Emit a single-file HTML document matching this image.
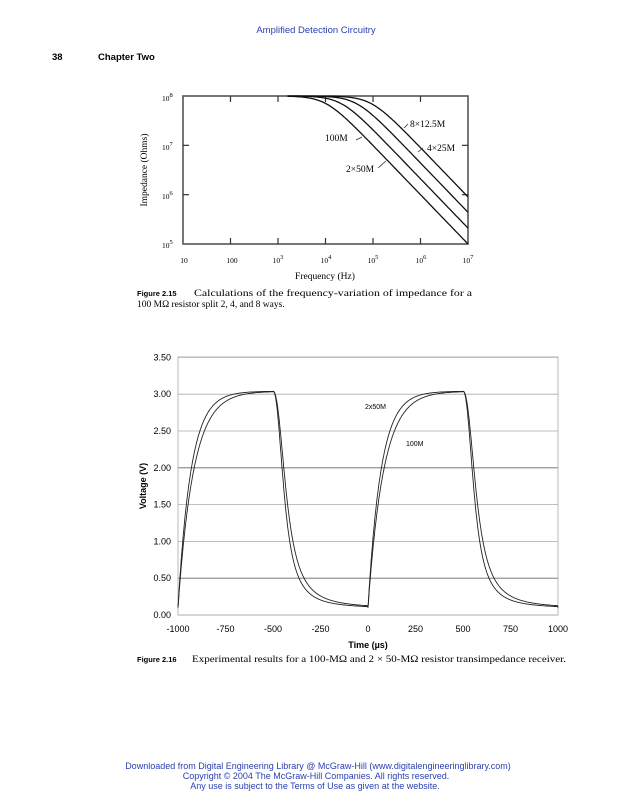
<!DOCTYPE html>
<html><head><meta charset="utf-8"><style>
html,body{margin:0;padding:0;background:#fff;}
svg{display:block;}
</style></head><body>
<svg id="s" width="629" height="800" xmlns="http://www.w3.org/2000/svg" font-family="Liberation Sans, sans-serif">
<text x="316" y="33" text-anchor="middle" font-size="9.5" fill="#2a3fb0">Amplified Detection Circuitry</text>
<text x="52" y="60" font-size="9.5" font-weight="bold">38</text>
<text x="98" y="60" font-size="9.5" font-weight="bold">Chapter Two</text>

<!-- Figure 2.15 -->
<g font-family="Liberation Serif, serif" font-size="9">
<rect x="183" y="96" width="285" height="148" fill="none" stroke="#555" stroke-width="1.6"/>
<g id="ticks1" stroke="#333" stroke-width="1.2"></g>
<g id="curves1" fill="none" stroke="#111" stroke-width="1.3"></g>
<text x="162" y="101" font-size="7.5">10<tspan dy="-4" font-size="6.5">8</tspan></text>
<text x="162" y="150" font-size="7.5">10<tspan dy="-4" font-size="6.5">7</tspan></text>
<text x="162" y="199" font-size="7.5">10<tspan dy="-4" font-size="6.5">6</tspan></text>
<text x="162" y="248" font-size="7.5">10<tspan dy="-4" font-size="6.5">5</tspan></text>
<g font-size="7.5" text-anchor="middle">
<text x="184" y="263">10</text>
<text x="232" y="263">100</text>
<text x="278" y="263">10<tspan dy="-4" font-size="6.5">3</tspan></text>
<text x="326" y="263">10<tspan dy="-4" font-size="6.5">4</tspan></text>
<text x="373" y="263">10<tspan dy="-4" font-size="6.5">5</tspan></text>
<text x="421" y="263">10<tspan dy="-4" font-size="6.5">6</tspan></text>
<text x="468" y="263">10<tspan dy="-4" font-size="6.5">7</tspan></text>
</g>
<text x="325" y="279" text-anchor="middle" font-size="9.5">Frequency (Hz)</text>
<text transform="translate(147,170) rotate(-90)" text-anchor="middle" font-size="9.5">Impedance (Ohms)</text>
<text x="325" y="141" font-size="9.5">100M</text>
<text x="410" y="127" font-size="9.5">8×12.5M</text>
<text x="427" y="151" font-size="9.5">4×25M</text>
<text x="346" y="172" font-size="9.5">2×50M</text>
<g stroke="#333" stroke-width="0.8">
<line x1="356" y1="140" x2="362" y2="137"/>
<line x1="408" y1="124" x2="404" y2="128"/>
<line x1="423" y1="148" x2="418" y2="152"/>
<line x1="378" y1="168" x2="386" y2="161"/>
</g>
</g>
<text x="137" y="296" font-size="7.5" font-weight="bold">Figure 2.15</text>
<text x="194" y="296" font-size="9.5" font-family="Liberation Serif, serif" textLength="278" lengthAdjust="spacingAndGlyphs">Calculations of the frequency-variation of impedance for a</text>
<text x="137" y="307" font-size="9.5" font-family="Liberation Serif, serif">100 MΩ resistor split 2, 4, and 8 ways.</text>

<!-- Figure 2.16 -->
<g id="grid2" stroke="#999" stroke-width="0.8"></g>
<rect x="178" y="357" width="380" height="258" fill="none" stroke="#aaa" stroke-width="0.8"/>
<g id="labels2" font-size="9" text-anchor="end"></g>
<g id="curves2" fill="none" stroke="#222" stroke-width="0.9"></g>
<text x="365" y="409" font-size="7">2x50M</text>
<text x="406" y="446" font-size="7">100M</text>
<text x="368" y="648" text-anchor="middle" font-size="9" font-weight="bold">Time (µs)</text>
<text transform="translate(146,486) rotate(-90)" text-anchor="middle" font-size="9" font-weight="bold">Voltage (V)</text>
<text x="137" y="662" font-size="7.5" font-weight="bold">Figure 2.16</text>
<text x="192" y="662" font-size="9.5" font-family="Liberation Serif, serif" textLength="374" lengthAdjust="spacingAndGlyphs">Experimental results for a 100-MΩ and 2 × 50-MΩ resistor transimpedance receiver.</text>

<g font-size="9" fill="#2a3fb0" text-anchor="middle">
<text x="318" y="769">Downloaded from Digital Engineering Library @ McGraw-Hill (www.digitalengineeringlibrary.com)</text>
<text x="316" y="779">Copyright © 2004 The McGraw-Hill Companies. All rights reserved.</text>
<text x="315" y="789">Any use is subject to the Terms of Use as given at the website.</text>
</g>
</svg>
<script>
var NS="http://www.w3.org/2000/svg";
function el(p,t,a){var e=document.createElementNS(NS,t);for(var k in a)e.setAttribute(k,a[k]);p.appendChild(e);return e;}
var x0=183,dx=47.5,y0=96,dy=49.33;
var tk=document.getElementById('ticks1');
for(var i=1;i<6;i++){var x=x0+i*dx;el(tk,'line',{x1:x,y1:96,x2:x,y2:102});el(tk,'line',{x1:x,y1:244,x2:x,y2:238});}
for(var j=1;j<3;j++){var y=y0+j*dy;el(tk,'line',{x1:183,y1:y,x2:189,y2:y});el(tk,'line',{x1:468,y1:y,x2:462,y2:y});}
var c1=document.getElementById('curves1');
[1e4,2.1e4,4.4e4,9e4].forEach(function(fc){
 var d="";for(var lf=3.2;lf<=7.0001;lf+=0.02){var f=Math.pow(10,lf);var z=1e8/Math.sqrt(1+(f/fc)*(f/fc));
 var x=x0+(lf-1)*dx,y=y0+(8-Math.log10(z))*dy;d+=(d?"L":"M")+x.toFixed(1)+","+y.toFixed(1);}
 el(c1,'path',{d:d});
});
var X=function(t){return 178+(t+1000)*0.19;},Y=function(v){return 615-v*73.6;};
var g=document.getElementById('grid2'),lb=document.getElementById('labels2');
for(var k=0;k<=7;k++){var v=k*0.5;var y=Y(v);el(g,'line',{x1:178,y1:y,x2:558,y2:y,stroke:(k==4||k==1)?'#666':'#aaa'});
 var t=el(lb,'text',{x:171,y:y+3});t.textContent=v.toFixed(2);}
for(var k=0;k<=8;k++){var t=-1000+k*250;var tt=el(lb,'text',{x:X(t),y:632,'text-anchor':'middle'});tt.textContent=t;}
// smooth fall: V = 0.09 + 2.95 / (1 + (t/t50)^n)
function fallV(t,t50,n){if(t<=0)return 3.04;return 0.09+2.95/(1+Math.pow(t/t50,n));}
var c2=document.getElementById('curves2');
[[68,62,2.3],[82,74,2.3]].forEach(function(p){
 var d="";
 for(var t=-1000;t<=1000;t+=2){var ph=((t+1000)%1000);var v;
  if(ph<500){v=0.1+2.94*(1-Math.exp(-ph/p[0]));}else v=fallV(ph-500,p[1],p[2]);
  d+=(d?"L":"M")+X(t).toFixed(1)+","+Y(v).toFixed(1);}
 el(c2,'path',{d:d});
});
</script>
</body></html>
